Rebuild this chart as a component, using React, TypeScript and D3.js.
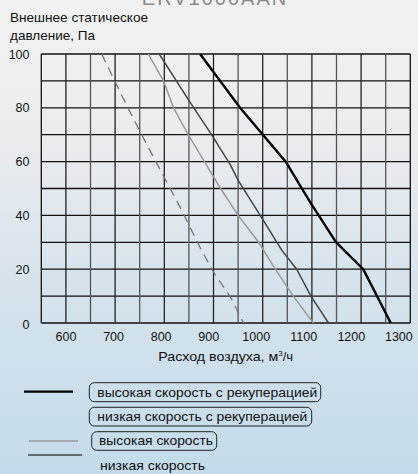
import React from "react";
import * as d3 from "d3";

const xTicks = [600, 700, 800, 900, 1000, 1100, 1200, 1300];
const yTicks = [0, 20, 40, 60, 80, 100];

const highRecup: [number, number][] = [
  [882, 100], [966, 80], [1062, 60], [1113, 45], [1168, 30], [1225, 20], [1283, 0],
];
const lowRecup: [number, number][] = [
  [675, 100], [716, 85], [756, 71], [807, 54], [843, 42], [882, 28], [910, 19], [948, 9], [973, 0],
];
const highSpeed: [number, number][] = [
  [773, 100], [805, 90], [826, 80], [857, 70], [891, 60], [925, 50], [962, 40], [1005, 30], [1040, 20], [1078, 10], [1120, 0],
];
const lowSpeed: [number, number][] = [
  [796, 100], [861, 82], [906, 70], [945, 59], [962, 53], [1012, 39], [1054, 27], [1085, 20], [1115, 10], [1152, 0],
];

const legendLabels = [
  "высокая скорость с рекуперацией",
  "низкая скорость с рекуперацией",
  "высокая скорость",
  "низкая скорость",
];

const W = 418;
const H = 474;
const left = 41.3;
const right = 410.3;
const top = 54;
const bottom = 323;

export default function App() {
  const x = d3.scaleLinear().domain([548, 1324]).range([left, right]);
  const y = d3.scaleLinear().domain([0, 100]).range([bottom, top]);
  const gx = d3.scaleLinear().domain([0, 15]).range([left, right]);
  const line = d3
    .line<[number, number]>()
    .x((d) => x(d[0]))
    .y((d) => y(d[1]));
  const font = "'Liberation Sans', Arial, sans-serif";

  return (
    <svg
      width={W}
      height={H}
      style={{ position: "absolute", left: 0, top: 0 }}
      fontFamily={font}
    >
      <defs>
        <linearGradient id="bg" x1="0" y1="0" x2="0" y2="1">
          <stop offset="0" stopColor="#f2f2f2" />
          <stop offset="0.3" stopColor="#e9ecef" />
          <stop offset="0.6" stopColor="#d6e3ec" />
          <stop offset="1" stopColor="#c3dbea" />
        </linearGradient>
        <clipPath id="plot">
          <rect x={left} y={top} width={right - left} height={bottom - top} />
        </clipPath>
      </defs>
      <rect x={0} y={0} width={W} height={H} fill="url(#bg)" />

      <text x={215} y={5} textAnchor="middle" fontSize={20} fill="#8a8a8a" letterSpacing={2}>
        ERV1000AAN
      </text>

      <text x={10} y={22} fontSize={13} fill="#111" textLength={138} lengthAdjust="spacingAndGlyphs">Внешнее статическое</text>
      <text x={10} y={40} fontSize={13} fill="#111" textLength={85} lengthAdjust="spacingAndGlyphs">давление, Па</text>

      {/* grid */}
      {d3.range(0, 101, 10).map((v) => (
        <line key={"h" + v} x1={left} x2={right} y1={y(v)} y2={y(v)} stroke="#111" strokeWidth={1.3} />
      ))}
      {d3.range(0, 16).map((i) => (
        <line
          key={"v" + i}
          x1={gx(i)}
          x2={gx(i)}
          y1={top}
          y2={bottom}
          stroke={i === 0 || i === 15 ? "#111" : i % 2 === 0 ? "#555" : "#222"}
          strokeWidth={1.3}
        />
      ))}

      {/* curves */}
      <g clipPath="url(#plot)" fill="none">
        <path d={line(lowRecup) || ""} stroke="#777" strokeWidth={1.3} strokeDasharray="9,6" />
        <path d={line(highSpeed) || ""} stroke="#9a9a9a" strokeWidth={1.5} />
        <path d={line(lowSpeed) || ""} stroke="#444" strokeWidth={1.5} />
        <path d={line(highRecup) || ""} stroke="#000" strokeWidth={2.4} />
      </g>

      {/* ticks */}
      {yTicks.map((v) => (
        <text key={"yt" + v} x={29.5} y={y(v) + 4.5 + (v === 0 ? 1 : 0)} textAnchor="end" fontSize={12.5} fill="#111">
          {v}
        </text>
      ))}
      {xTicks.map((v) => (
        <text key={"xt" + v} x={x(v)} y={341} textAnchor="middle" fontSize={12.5} fill="#111">
          {v}
        </text>
      ))}
      <text x={158.3} y={360.5} fontSize={13} fill="#111">
        <tspan textLength={120} lengthAdjust="spacingAndGlyphs">Расход воздуха, м</tspan>
        <tspan dy={-5} fontSize={8}>3</tspan>
        <tspan dy={5}>/ч</tspan>
      </text>

      {/* legend */}
      <line x1={24} x2={73} y1={391.7} y2={391.7} stroke="#000" strokeWidth={2.2} />
      <rect x={89.3} y={382.7} width={231.4} height={19} rx={5} fill="none" stroke="#222" strokeWidth={1} />
      <text x={97.3} y={396.5} fontSize={13} fill="#111" textLength={220} lengthAdjust="spacingAndGlyphs">{legendLabels[0]}</text>

      <rect x={89.3} y={407.3} width={222.4} height={18.7} rx={5} fill="none" stroke="#222" strokeWidth={1} />
      <text x={97.3} y={421} fontSize={13} fill="#111" textLength={210} lengthAdjust="spacingAndGlyphs">{legendLabels[1]}</text>

      <line x1={29} x2={78} y1={441} y2={441} stroke="#9a9a9a" strokeWidth={1.5} />
      <rect x={91.7} y={431.7} width={125} height={18.6} rx={5} fill="none" stroke="#222" strokeWidth={1} />
      <text x={99} y={445.3} fontSize={13} fill="#111" textLength={114} lengthAdjust="spacingAndGlyphs">{legendLabels[2]}</text>

      <line x1={28} x2={82} y1={455} y2={455} stroke="#444" strokeWidth={1.5} />
      <text x={100} y={469.5} fontSize={13} fill="#111" textLength={105} lengthAdjust="spacingAndGlyphs">{legendLabels[3]}</text>
    </svg>
  );
}
